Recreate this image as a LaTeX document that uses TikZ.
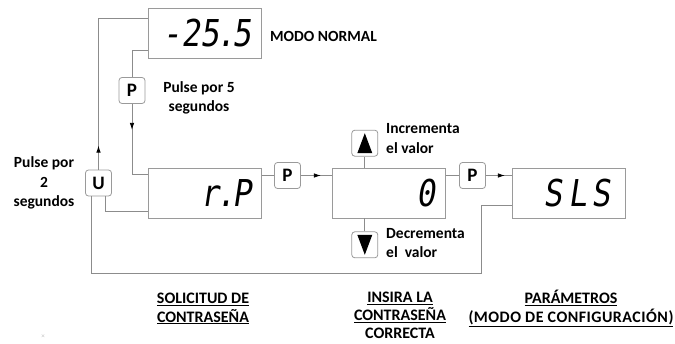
\documentclass[tikz,border=0pt]{standalone}
\usepackage{fontspec}
\setmainfont{Carlito}
\newfontfamily\segfont{DejaVu Sans Mono}[FakeSlant=0.15,FakeStretch=0.85]
\usetikzlibrary{arrows.meta,positioning,decorations.markings}
\definecolor{marco}{HTML}{9A9A9A}
\definecolor{cable}{HTML}{8C8C8C}
\newcommand{\punto}{\kern-3pt.\kern-3pt}
\tikzset{%
  % Specifications for style of nodes:
          base/.style = {draw=marco, fill=white, line width=0.8pt},
       display/.style = {base, minimum width=113pt, minimum height=50pt,
                         text width=93pt, inner xsep=10pt, inner ysep=0pt,
                         align=flush right, font=\fontsize{37}{37}\segfont},
         tecla/.style = {base, rounded corners=3pt, minimum width=26pt,
                         minimum height=26pt, inner sep=0pt,
                         font=\fontsize{19}{19}\selectfont\bfseries},
         texto/.style = {inner sep=0pt, font=\fontsize{15.5}{19.5}\selectfont\bfseries},
        titulo/.style = {texto, align=center, anchor=north,
                         font=\fontsize{16}{18.5}\selectfont\bfseries},
  % connectors
          wire/.style = {draw=cable, line width=0.8pt},
      midarrow/.style = {wire, postaction={decorate},
                         decoration={markings, mark=at position #1 with
                           {\arrow[black]{Latex[length=7pt,width=4.5pt]}}}}
}

\begin{document}
\begin{tikzpicture}[x=1pt, y=-1pt, node distance=70pt]
\useasboundingbox (0,0) rectangle (675,343);

\node (normal)	[display]	at (204.5,33.5)	{\mbox{-25\punto5}};
\node (clave)	[display]	at (205,193)	{\mbox{r\punto P}};
\node (cero)	[display,right=of clave]	{0};
\node (sls)	[display,right=66pt of cero]	{\mbox{S\kern6pt L\kern4pt S\kern5pt}};

\node (p1)	[tecla]	at (132,90.5)	{P};
\node (u)	[tecla]	at (98.5,183)	{U};
\node (p2)	[tecla]	at (287.5,175.5)	{P};
\node (sube)	[tecla,above=11pt of cero,xshift=-24pt]	{};
\node (baja)	[tecla,below=13pt of cero,xshift=-24pt]	{};
\node (p3)	[tecla]	at (472.5,175.5)	{P};
\fill ([xshift=-7.5pt,yshift=-10pt]sube.center) -- ([xshift=7.5pt,yshift=-10pt]sube.center)
  -- ([yshift=10pt]sube.center) -- cycle;
\fill ([xshift=-7.5pt,yshift=10pt]baja.center) -- ([xshift=7.5pt,yshift=10pt]baja.center)
  -- ([yshift=-10pt]baja.center) -- cycle;

\coordinate (retorno) at (481,273);

\draw[midarrow=24pt] (u.north) |- ([yshift=-10pt]normal.north west);
\draw[wire] ([yshift=9pt]normal.south west) -| (p1.north);
\draw[midarrow=26pt] (p1.south) |- ([yshift=-7pt]clave.north west);
\draw[wire] ([xshift=7pt]u.south) |- ([yshift=7pt]clave.south west);
\draw[wire] (p2.west -| clave.east) -- (p2.west);
\draw[midarrow=20pt] (p2.east) -- (p2.east -| cero.west);
\draw[wire] (cero.north -| sube) -- (sube.south);
\draw[wire] (cero.south -| baja) -- (baja.north);
\draw[wire] (p3.west -| cero.east) -- (p3.west);
\draw[midarrow=19pt] (p3.east) -- (p3.east -| sls.west);
\draw[wire] ([yshift=13pt]sls.south west) -| (retorno) -| ([xshift=-7pt]u.south);

\node (lnormal)	[texto,anchor=west]	at (270,36)	{MODO NORMAL};
\node (lcinco)	[texto,align=center]	at (199,98)	{Pulse por 5\\segundos};
\node (ldos)	[texto,align=center]	at (44,183)	{Pulse por\\2\\segundos};
\node (linc)	[texto,align=left,anchor=west]	at (386,138.5)	{Incrementa\\el valor};
\node (ldec)	[texto,align=left,anchor=west]	at (386,243)	{Decrementa\\el\ \ valor};
\node (lsol)	[titulo]	at (203,290)
  {\vphantom{Á}\underline{SOLICITUD DE}\\\underline{CONTRASEÑA}};
\node (lins)	[titulo,font=\fontsize{16}{18}\selectfont\bfseries]	at (400,289)
  {\vphantom{Á}\underline{INSIRA LA}\\\underline{CONTRASEÑA}\\CORRECTA};
\node (lpar)	[titulo]	at (571,290)
  {\underline{PARÁMETROS}\\\underline{\addfontfeature{LetterSpace=3}(MODO DE CONFIGURACIÓN)}};
\node (marca)	[text=gray!50,font=\fontsize{7}{7}\selectfont]	at (43,337)	{×};
\end{tikzpicture}
\end{document}
